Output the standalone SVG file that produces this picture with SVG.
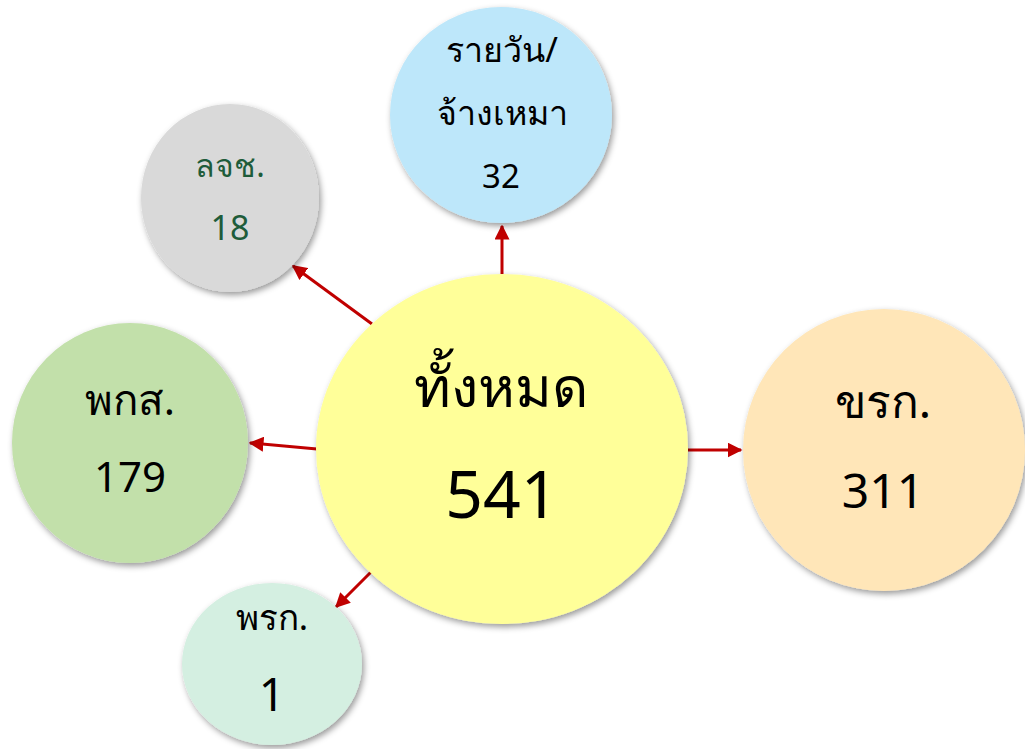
<svg xmlns="http://www.w3.org/2000/svg" width="1025" height="749" viewBox="0 0 1025 749">
<style>
.t{font-family:"Noto Sans","DejaVu Sans",sans-serif;text-anchor:middle;fill:#000}
.c{filter:url(#sh)}
.conn{stroke:#C00000;stroke-width:3;fill:none;marker-end:url(#ah)}
</style>
<defs>
<filter id="sh" x="-20%" y="-20%" width="140%" height="140%">
<feDropShadow dx="2" dy="3" stdDeviation="3" flood-color="#000" flood-opacity="0.4"/>
</filter>
<marker id="ah" viewBox="0 0 10 10" refX="9" refY="5" markerWidth="5" markerHeight="5" orient="auto" markerUnits="strokeWidth">
<path d="M0,0 L10,5 L0,10 z" fill="#C00000"/>
</marker>
</defs>
<rect width="1025" height="749" fill="#fff"/>
<g id="connectors">
<line class="conn" x1="502" y1="274" x2="502" y2="226"/>
<line class="conn" x1="372" y1="324" x2="293" y2="266"/>
<line class="conn" x1="317" y1="449" x2="250" y2="443"/>
<line class="conn" x1="371" y1="572" x2="336" y2="607"/>
<line class="conn" x1="688" y1="450" x2="741" y2="450"/>
</g>
<g id="node-total">
<ellipse class="c" cx="502" cy="449" rx="186" ry="175" fill="#FFFF99"/>
<text class="t" x="501" y="407" font-size="56">ทั้งหมด</text>
<text class="t" x="502" y="518" font-size="66">541</text>
</g>
<g id="node-daily">
<ellipse class="c" cx="501" cy="115" rx="111" ry="108" fill="#BDE7FA"/>
<text class="t" x="502" y="62" font-size="34">รายวัน/</text>
<text class="t" x="502" y="125" font-size="34">จ้างเหมา</text>
<text class="t" x="501" y="188" font-size="33">32</text>
</g>
<g id="node-lor">
<ellipse class="c" cx="230" cy="198" rx="89" ry="94" fill="#D9D9D9"/>
<text class="t" x="230" y="177" font-size="32" style="fill:#1E5C3A">ลจช.</text>
<text class="t" x="230" y="240" font-size="34" style="fill:#1E5C3A">18</text>
</g>
<g id="node-pks">
<ellipse class="c" cx="130" cy="443" rx="118" ry="120" fill="#C2E0AA"/>
<text class="t" x="130" y="415" font-size="42">พกส.</text>
<text class="t" x="130" y="492" font-size="42">179</text>
</g>
<g id="node-prk">
<ellipse class="c" cx="272" cy="664" rx="90" ry="81" fill="#D4EFE1"/>
<text class="t" x="272" y="630" font-size="35">พรก.</text>
<text class="t" x="272" y="711" font-size="46">1</text>
</g>
<g id="node-krk">
<ellipse class="c" cx="884" cy="450" rx="141" ry="141" fill="#FFE6B8"/>
<text class="t" x="883" y="418" font-size="46">ขรก.</text>
<text class="t" x="883" y="508" font-size="48">311</text>
</g>
</svg>
